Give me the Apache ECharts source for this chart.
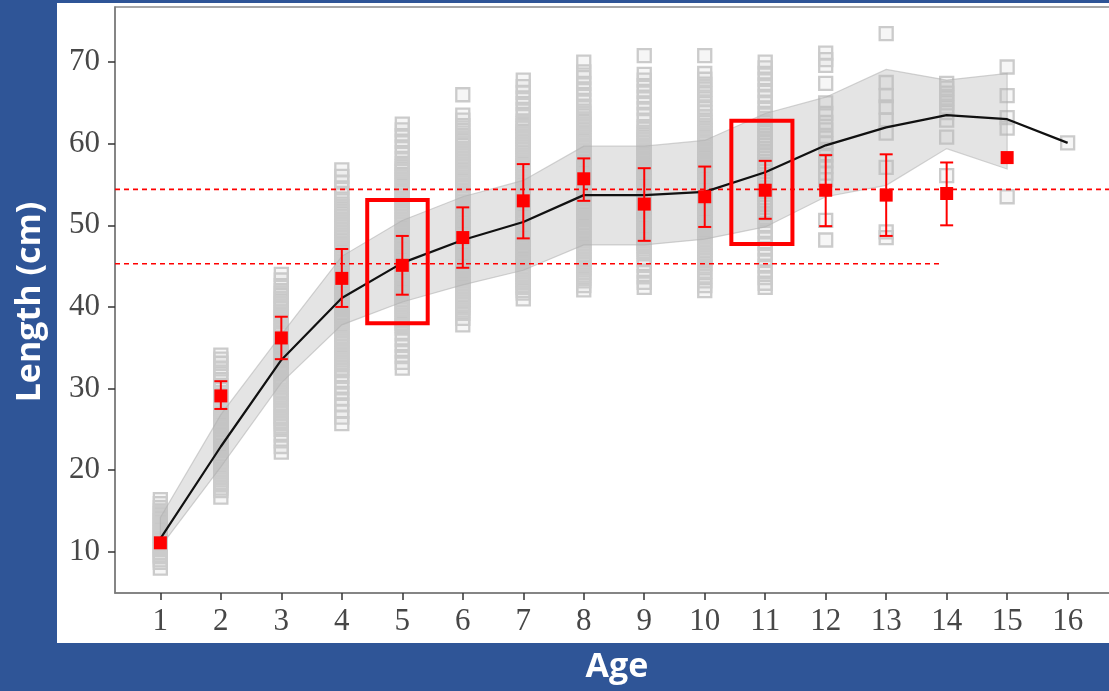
<!DOCTYPE html>
<html>
<head>
<meta charset="utf-8">
<script src="https://cdn.jsdelivr.net/npm/echarts@6/dist/echarts.min.js"></script>
<style>
html,body{margin:0;padding:0;background:#2f5597;}
#c{width:1109px;height:691px;}
</style>
</head>
<body>
<div id="c"></div>
<script>
// ---------- DATA ----------
const ageTicks = [1,2,3,4,5,6,7,8,9,10,11,12,13,14,15,16];
const lengthTicks = [10,20,30,40,50,60,70];

// observed lengths (open grey squares) per age
const obsAge1 = [8.0,8.7,9.0,9.4,9.6,9.9,10.3,10.5,10.8,11.2,11.4,11.7,12.0,12.3,12.7,12.9,13.2,13.6,13.8,14.1,14.5,14.7,15.0,15.4,15.9,16.4];
const obsAge2 = [16.7,17.5,17.8,18.2,18.5,18.8,19.1,19.5,19.8,20.1,20.4,20.8,21.1,21.4,21.7,22.1,22.4,22.7,23.0,23.4,23.7,24.0,24.3,24.7,25.0,25.3,25.6,26.0,26.3,26.6,26.9,27.3,27.6,27.9,28.2,28.6,28.9,29.2,29.5,29.9,30.4,31.1,31.8,32.4,33.1,33.6,34.1];
const obsAge3 = [22.2,22.9,23.6,24.3,25.0,25.4,25.7,26.0,26.3,26.6,27.0,27.3,27.6,27.9,28.2,28.6,28.9,29.2,29.5,29.8,30.2,30.5,30.8,31.1,31.4,31.8,32.1,32.4,32.7,33.0,33.4,33.7,34.0,34.3,34.6,35.0,35.3,35.6,35.9,36.2,36.6,36.9,37.2,37.5,37.8,38.2,38.5,38.8,39.1,39.4,39.8,40.1,40.4,40.7,41.0,41.4,41.7,42.0,42.6,43.3,44.0];
const obsAge4 = [25.7,26.5,27.2,28.0,28.7,29.4,30.1,30.8,31.5,32.2,32.5,32.9,33.2,33.5,33.8,34.2,34.5,34.8,35.1,35.5,35.8,36.1,36.4,36.8,37.1,37.4,37.7,38.1,38.4,38.7,39.0,39.4,39.7,40.0,40.3,40.7,41.0,41.3,41.6,42.0,42.3,42.6,42.9,43.3,43.6,43.9,44.2,44.6,44.9,45.2,45.5,45.9,46.2,46.5,46.8,47.2,47.5,47.8,48.1,48.5,48.8,49.1,49.4,49.8,50.1,50.4,50.7,51.1,51.4,51.7,52.0,52.3,52.6,53.2,53.9,54.6,55.3,56.0,56.8];
const obsAge5 = [32.5,33.2,33.9,34.6,35.3,36.0,36.7,37.4,37.7,38.0,38.4,38.7,39.0,39.3,39.7,40.0,40.3,40.6,41.0,41.3,41.6,41.9,42.3,42.6,42.9,43.2,43.6,43.9,44.2,44.5,44.9,45.2,45.5,45.8,46.2,46.5,46.8,47.1,47.5,47.8,48.1,48.4,48.8,49.1,49.4,49.7,50.1,50.4,50.7,51.0,51.4,51.7,52.0,52.3,52.7,53.0,53.3,53.6,54.0,54.3,54.6,54.9,55.3,55.6,55.9,56.2,56.6,56.9,57.2,57.6,58.2,58.9,59.6,60.3,61.0,61.7,62.4];
const obsAge6 = [37.8,38.6,39.2,39.6,39.9,40.3,40.6,40.9,41.2,41.6,41.9,42.2,42.5,42.9,43.2,43.5,43.8,44.2,44.5,44.8,45.1,45.5,45.8,46.1,46.4,46.8,47.1,47.4,47.7,48.1,48.4,48.7,49.0,49.4,49.7,50.0,50.3,50.7,51.0,51.3,51.6,52.0,52.3,52.6,52.9,53.3,53.6,53.9,54.2,54.6,54.9,55.2,55.5,55.9,56.2,56.5,56.8,57.2,57.5,57.8,58.1,58.5,58.8,59.1,59.4,59.8,60.1,60.4,60.7,61.0,61.6,62.2,62.9,63.5,66.0];
const obsAge7 = [41.0,41.7,42.0,42.4,42.7,43.0,43.3,43.7,44.0,44.3,44.6,45.0,45.3,45.6,45.9,46.3,46.6,46.9,47.2,47.6,47.9,48.2,48.5,48.9,49.2,49.5,49.8,50.2,50.5,50.8,51.1,51.5,51.8,52.1,52.4,52.8,53.1,53.4,53.7,54.1,54.4,54.7,55.0,55.4,55.7,56.0,56.3,56.7,57.0,57.3,57.6,58.0,58.3,58.6,58.9,59.3,59.6,59.9,60.2,60.6,60.9,61.2,61.5,61.9,62.2,62.5,62.8,63.6,64.2,64.9,65.6,66.3,67.0,67.8];
const obsAge8 = [42.1,42.6,43.2,43.5,43.9,44.2,44.5,44.8,45.2,45.5,45.8,46.1,46.5,46.8,47.1,47.4,47.8,48.1,48.4,48.7,49.1,49.4,49.7,50.0,50.4,50.7,51.0,51.3,51.7,52.0,52.3,52.6,53.0,53.3,53.6,53.9,54.3,54.6,54.9,55.2,55.6,55.9,56.2,56.5,56.9,57.2,57.5,57.8,58.2,58.5,58.8,59.1,59.5,59.8,60.1,60.4,60.8,61.1,61.4,61.7,62.1,62.4,62.7,63.0,63.4,63.7,64.0,64.6,65.3,66.0,66.7,67.4,68.1,68.8,70.0];
const obsAge9 = [42.4,43.0,43.7,44.4,45.1,45.8,46.5,46.8,47.1,47.5,47.8,48.1,48.4,48.8,49.1,49.4,49.7,50.1,50.4,50.7,51.0,51.4,51.7,52.0,52.3,52.7,53.0,53.3,53.6,54.0,54.3,54.6,54.9,55.3,55.6,55.9,56.2,56.6,56.9,57.2,57.5,57.9,58.2,58.5,58.8,59.2,59.5,59.8,60.1,60.5,60.8,61.1,61.4,61.8,62.1,62.9,63.6,64.3,65.0,65.7,66.4,67.1,67.8,68.5,70.8];
const obsAge10 = [42.0,42.6,43.2,43.8,44.4,45.0,45.3,45.7,46.0,46.3,46.6,47.0,47.3,47.6,47.9,48.3,48.6,48.9,49.2,49.6,49.9,50.2,50.5,50.9,51.2,51.5,51.8,52.2,52.5,52.8,53.1,53.5,53.8,54.1,54.4,54.8,55.1,55.4,55.7,56.1,56.4,56.7,57.0,57.4,57.7,58.0,58.3,58.7,59.0,59.3,59.6,60.0,60.3,60.6,60.9,61.3,61.6,61.9,62.2,62.6,62.9,63.3,63.8,64.3,64.9,65.5,66.1,66.7,67.3,67.9,68.6,70.8];
const obsAge11 = [42.4,42.9,43.6,44.3,45.0,45.7,46.4,47.1,47.8,48.5,49.2,49.9,50.6,51.0,51.4,51.8,52.2,52.6,53.0,53.4,53.8,54.2,54.6,55.0,55.4,55.8,56.2,56.6,57.0,57.4,57.8,58.2,58.6,59.0,59.4,59.8,60.2,60.6,61.0,61.4,61.8,62.2,62.6,63.1,63.7,64.4,65.1,65.8,66.5,67.2,67.9,68.6,69.3,70.0];
const obsAge12 = [48.2,50.6,55.6,56.4,57.2,57.9,58.6,59.3,60.0,60.7,61.7,62.6,63.7,65.0,67.4,69.6,70.3,71.1];
const obsAge13 = [48.5,49.2,57.1,61.3,62.9,64.5,65.9,67.5,73.5];
const obsAge14 = [56.1,60.8,62.9,63.8,64.4,65.0,65.6,66.2,66.8,67.4];
const obsAge15 = [53.5,61.9,63.2,65.9,69.4];
const obsAge16 = [60.1];

// mean length per age (red squares) with error bars
const meanAges = [1,2,3,4,5,6,7,8,9,10,11,12,13,14,15];
const meanLength = [11.1,29.1,36.2,43.5,45.1,48.5,53.0,55.7,52.6,53.5,54.3,54.3,53.7,53.9,58.3];
const meanLow  = [null,27.5,33.6,40.0,41.5,44.8,48.4,53.0,48.1,49.8,50.8,49.9,48.7,50.0,null];
const meanHigh = [null,30.9,38.8,47.1,48.7,52.2,57.5,58.2,57.0,57.2,57.9,58.6,58.7,57.7,null];

// fitted growth curve (black line)
const fitAges = [1,2,3,4,5,6,7,8,9,10,11,12,13,14,15,16];
const fitLength = [11.6,22.9,33.5,41.1,45.4,48.2,50.4,53.7,53.7,54.1,56.5,59.8,62.0,63.5,63.0,60.1];

// confidence ribbon
const bandAges = [1,2,3,4,5,6,7,8,9,10,11,12,13,14,15];
const bandLow  = [10.6,20.4,30.7,37.8,40.6,42.7,44.5,47.6,47.6,48.3,49.8,53.5,54.9,59.4,56.9];
const bandHigh = [14.2,26.8,36.6,46.2,50.6,53.5,55.5,59.7,59.7,60.4,63.7,65.7,69.1,67.8,68.6];

// dashed reference lines
const refLength = [54.4, 45.3];
const refAgeEnd = [16.75, 13.9];

// highlighted boxes
const boxAgeFrom = [4.42, 10.44];
const boxAgeTo   = [5.42, 11.45];
const boxLenLow  = [38.0, 47.7];
const boxLenHigh = [53.1, 62.8];

// ---------- BUILD ----------
const obsAll = [obsAge1,obsAge2,obsAge3,obsAge4,obsAge5,obsAge6,obsAge7,obsAge8,obsAge9,obsAge10,obsAge11,obsAge12,obsAge13,obsAge14,obsAge15,obsAge16];
const obsData = [];
obsAll.forEach((arr, i) => arr.forEach(v => obsData.push([ageTicks[i], v])));

const X_MIN = 0.25, X_MAX = 16.75, Y_MIN = 4.95, Y_MAX = 76.75;
const RED = '#ff0000';

const errData = [];
meanAges.forEach((a, i) => { if (meanLow[i] != null) errData.push([a, meanLow[i], meanHigh[i]]); });

const TITLE_FONT = 'bold 34px "Open Sans", "Noto Sans", sans-serif';

const option = {
  backgroundColor: '#2f5597',
  animation: false,
  graphic: [
    { type: 'rect', z: -10, shape: { x: 57, y: 3, width: 1060, height: 640 }, style: { fill: '#ffffff' } },
    { type: 'text', z: 10, x: 30, y: 302, rotation: Math.PI / 2,
      style: { text: 'Length (cm)', fill: '#ffffff', font: TITLE_FONT, textAlign: 'center', textVerticalAlign: 'middle' } },
    { type: 'text', z: 10, x: 617, y: 667,
      style: { text: 'Age', fill: '#ffffff', font: TITLE_FONT, textAlign: 'center', textVerticalAlign: 'middle' } }
  ],
  grid: { left: 115, top: 7, width: 998, height: 586, outerBoundsMode: 'none', containLabel: false,
          show: true, borderColor: '#8c8c8c', borderWidth: 1.5, backgroundColor: 'transparent' },
  xAxis: {
    type: 'value', min: X_MIN, max: X_MAX,
    axisLine: { show: true, onZero: false, lineStyle: { color: '#7a7a7a', width: 1.5 } },
    axisTick: { show: true, length: 7, customValues: ageTicks, lineStyle: { color: '#333333', width: 1.5 } },
    axisLabel: { customValues: ageTicks, margin: 13, color: '#474747', fontFamily: '"Liberation Serif", serif', fontSize: 31 },
    splitLine: { show: false }
  },
  yAxis: {
    type: 'value', min: Y_MIN, max: Y_MAX,
    axisLine: { show: true, onZero: false, lineStyle: { color: '#7a7a7a', width: 1.5 } },
    axisTick: { show: true, length: 7, customValues: lengthTicks, lineStyle: { color: '#333333', width: 1.5 } },
    axisLabel: { customValues: lengthTicks, margin: 15, color: '#474747', fontFamily: '"Liberation Serif", serif', fontSize: 31 },
    splitLine: { show: false }
  },
  series: [
    {
      name: 'observed', type: 'scatter', data: obsData, symbol: 'rect', symbolSize: 13, z: 2,
      itemStyle: { color: 'rgba(200,200,200,0.16)', borderColor: '#cbcbcb', borderWidth: 2.3, opacity: 1 },
      emphasis: { disabled: true }
    },
    {
      name: 'band', type: 'custom', z: 3,
      data: bandAges.map((a, i) => [a, bandLow[i], bandHigh[i]]),
      encode: { x: 0, y: [1, 2] },
      renderItem: function (params, api) {
        if (params.dataIndex !== 0) return null;
        const pts = [];
        for (let i = 0; i < bandAges.length; i++) pts.push(api.coord([bandAges[i], bandHigh[i]]));
        for (let i = bandAges.length - 1; i >= 0; i--) pts.push(api.coord([bandAges[i], bandLow[i]]));
        return { type: 'polygon', shape: { points: pts }, style: { fill: 'rgba(185,185,185,0.38)', stroke: 'rgba(175,175,175,0.55)', lineWidth: 1.2 } };
      }
    },
    {
      name: 'ref1', type: 'line', z: 4, symbol: 'none', color: RED,
      data: [[X_MIN, refLength[0]], [refAgeEnd[0], refLength[0]]],
      lineStyle: { color: RED, width: 1.6, type: [5, 4], opacity: 1 }
    },
    {
      name: 'ref2', type: 'line', z: 4, symbol: 'none', color: RED,
      data: [[X_MIN, refLength[1]], [refAgeEnd[1], refLength[1]]],
      lineStyle: { color: RED, width: 1.6, type: [5, 4], opacity: 1 }
    },
    {
      name: 'fit', type: 'line', z: 5, symbol: 'none',
      data: fitAges.map((a, i) => [a, fitLength[i]]),
      lineStyle: { color: '#111111', width: 2.2 }
    },
    {
      name: 'errbar', type: 'custom', z: 6,
      data: errData, encode: { x: 0, y: [1, 2] },
      renderItem: function (params, api) {
        const x = api.value(0);
        const lo = api.coord([x, api.value(1)]);
        const hi = api.coord([x, api.value(2)]);
        const w = 6.5;
        const st = { stroke: RED, lineWidth: 2 };
        return { type: 'group', children: [
          { type: 'line', shape: { x1: lo[0], y1: lo[1], x2: hi[0], y2: hi[1] }, style: st },
          { type: 'line', shape: { x1: lo[0] - w, y1: lo[1], x2: lo[0] + w, y2: lo[1] }, style: st },
          { type: 'line', shape: { x1: hi[0] - w, y1: hi[1], x2: hi[0] + w, y2: hi[1] }, style: st }
        ]};
      }
    },
    {
      name: 'mean', type: 'scatter', z: 7, symbol: 'rect', symbolSize: 13,
      data: meanAges.map((a, i) => [a, meanLength[i]]),
      itemStyle: { color: RED, opacity: 1 }
    },
    {
      name: 'boxes', type: 'custom', z: 8,
      data: boxAgeFrom.map((a, i) => [a, boxLenLow[i], boxAgeTo[i], boxLenHigh[i]]),
      encode: { x: [0, 2], y: [1, 3] },
      renderItem: function (params, api) {
        const p1 = api.coord([api.value(0), api.value(3)]);
        const p2 = api.coord([api.value(2), api.value(1)]);
        return { type: 'rect', shape: { x: p1[0], y: p1[1], width: p2[0] - p1[0], height: p2[1] - p1[1] },
          style: { fill: 'none', stroke: RED, lineWidth: 4 } };
      }
    }
  ]
};

const chart = echarts.init(document.getElementById('c'));
chart.setOption(option);
</script>
</body>
</html>
